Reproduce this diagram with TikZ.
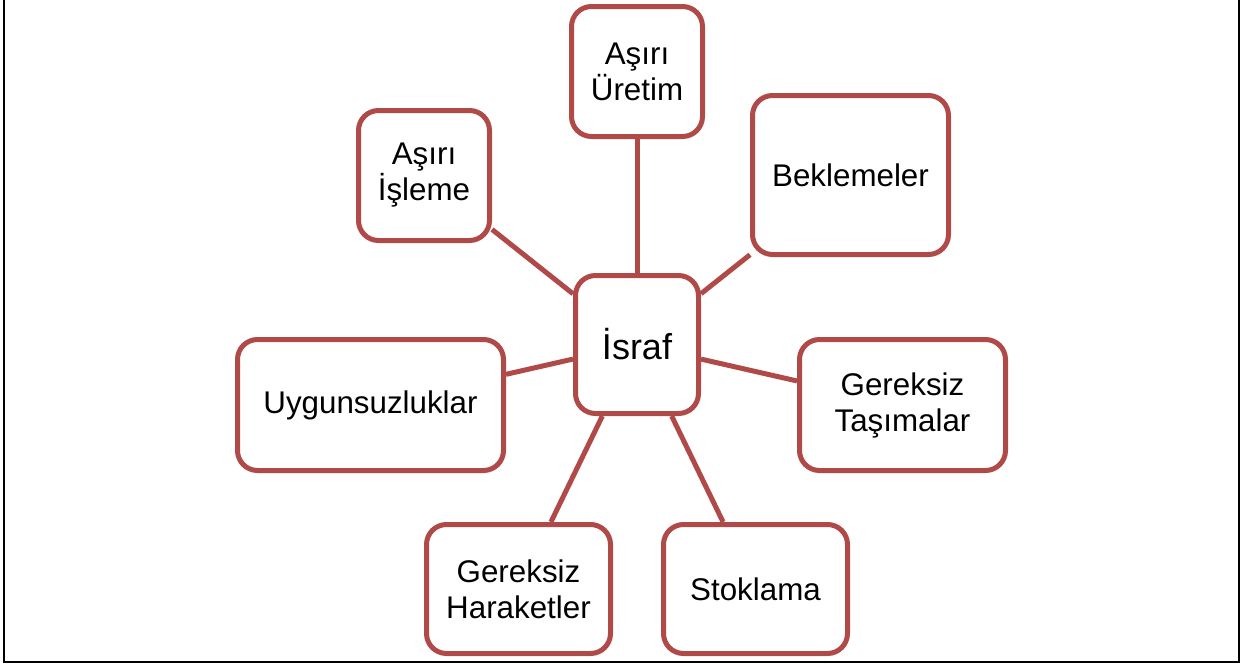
\documentclass[tikz,border=0pt]{standalone}
\usepackage{fontspec}
\setmainfont{Liberation Sans}
\definecolor{wasteRed}{RGB}{176,74,72}
\begin{document}
\begin{tikzpicture}[x=0.75pt,y=-0.75pt,
  card/.style={draw=wasteRed, line width=3.75pt, rounded corners=15pt, fill=white,
    align=center, inner sep=0pt, text=black,
    font=\fontsize{23.5}{27}\selectfont},
  link/.style={draw=wasteRed, line width=3.75pt}]
  \useasboundingbox (0,0) rectangle (1257,668);
  \draw[line width=1.5pt] (4,-1) rectangle (1239,662);
  % hub
  \node[card, minimum width=92.25pt, minimum height=103.5pt,
        font=\fontsize{27}{31}\selectfont] (israf) at (637,344.5) {İsraf};
  % surrounding causes
  \node[card, minimum width=98.25pt, minimum height=97.5pt] (uretim) at (637,71.5) {Aşırı\\Üretim};
  \node[card, minimum width=147pt, minimum height=119.25pt] (bekle) at (850.5,175) {Beklemeler};
  \node[card, minimum width=98.25pt, minimum height=97.5pt] (isleme) at (424,175.5) {Aşırı\\İşleme};
  \node[card, minimum width=199.5pt, minimum height=98.25pt] (uygun) at (370.5,405) {Uygunsuzluklar};
  \node[card, minimum width=154.5pt, minimum height=98.25pt] (tasima) at (902.5,405) {Gereksiz\\Taşımalar};
  \node[card, minimum width=138pt, minimum height=96.75pt] (hareket) at (518.5,589) {Gereksiz\\Haraketler};
  \node[card, minimum width=138pt, minimum height=96.75pt] (stok) at (755.5,589) {Stoklama};
  % spokes
  \foreach \n in {uretim,bekle,isleme,uygun,tasima,hareket,stok}
    \draw[link] (israf) -- (\n);
\end{tikzpicture}
\end{document}
